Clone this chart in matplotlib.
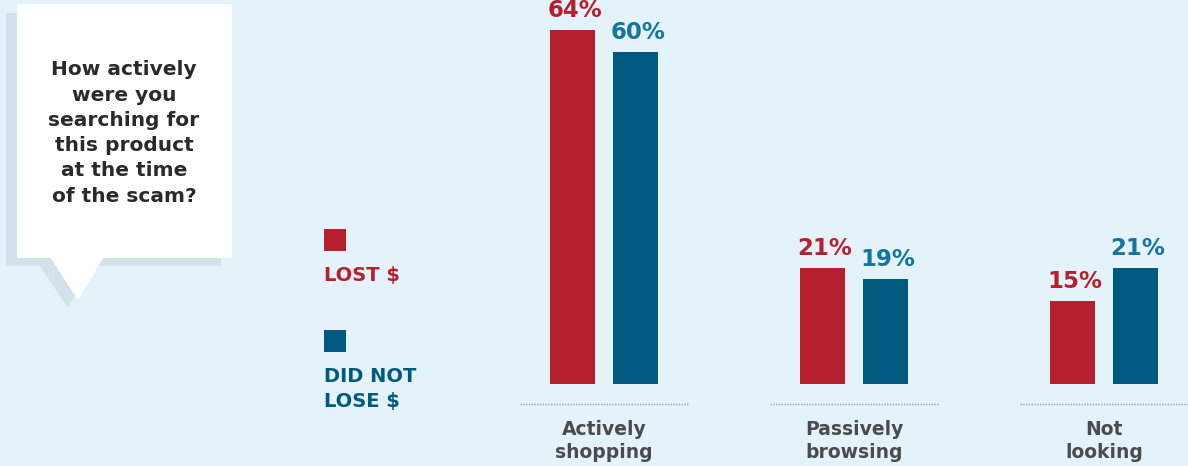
import matplotlib.pyplot as plt
from matplotlib.patches import Polygon, Rectangle

categories = ['Actively\nshopping', 'Passively\nbrowsing', 'Not\nlooking']
lost = [64, 21, 15]
not_lost = [60, 19, 21]
series_names = ['LOST $', 'DID NOT\nLOSE $']
question = 'How actively\nwere you\nsearching for\nthis product\nat the time\nof the scam?'

bg = '#e4f2fa'
red = '#b71f2e'
blue = '#005a80'
blue_lbl = '#14759f'
grey = '#4b4b4d'

W, H = 1188, 466
fig = plt.figure(figsize=(W / 100, H / 100), dpi=100)
fig.patch.set_facecolor(bg)

# decoration layer in pixel coordinates
deco = fig.add_axes([0, 0, 1, 1])
deco.set_xlim(0, W)
deco.set_ylim(H, 0)
deco.axis('off')
shadow = '#d3e1ea'
deco.add_patch(Rectangle((6, 13), 215, 253, fc=shadow, ec='none'))
deco.add_patch(Polygon([(40, 266), (92, 266), (68, 308)], fc=shadow, ec='none'))
deco.add_patch(Rectangle((17, 4), 215, 254, fc='white', ec='none'))
deco.add_patch(Polygon([(50, 257), (104, 257), (78, 300)], fc='white', ec='none'))
deco.text(124, 133, question, ha='center', va='center', fontsize=14.5, fontweight='bold',
          color='#2a2a2a', linespacing=1.42)

# legend
deco.add_patch(Rectangle((324, 229), 22, 22, fc=red, ec='none'))
deco.text(324, 275, series_names[0], ha='left', va='center', fontsize=14, fontweight='bold', color=red)
deco.add_patch(Rectangle((324, 330), 22, 22, fc=blue, ec='none'))
deco.text(324, 389, series_names[1], ha='left', va='center', fontsize=14, fontweight='bold',
          color=blue, linespacing=1.4)

# bar chart
px_per = 5.53
ax = fig.add_axes([470 / W, 0, 718 / W, 1])
ax.patch.set_visible(False)
ax.set_xlim(-0.536, 2.336)
ax.set_ylim(-(H - 384) / px_per, 384 / px_per)
ax.axis('off')

x = list(range(len(categories)))
bw = 45 / 250
off = 31.5 / 250
ax.bar([i - off for i in x], lost, width=bw, color=red)
ax.bar([i + off for i in x], not_lost, width=bw, color=blue)

for i in x:
    ax.text(i - off + 0.01, lost[i] + 13 / px_per, f'{lost[i]}%', ha='center', va='baseline',
            fontsize=16.5, fontweight='bold', color=red)
    ax.text(i + off + 0.01, not_lost[i] + 13 / px_per, f'{not_lost[i]}%', ha='center', va='baseline',
            fontsize=16.5, fontweight='bold', color=blue_lbl)
    ax.plot([i - 0.338, i + 0.338], [-20 / px_per] * 2, ls=(0, (1, 1)), lw=1,
            color='#9aa3a8', clip_on=False)
    ax.text(i, -57 / px_per, categories[i], ha='center', va='center', fontsize=13.5,
            fontweight='bold', color=grey, linespacing=1.3)

fig.savefig('out.png', dpi=100, facecolor=bg)
